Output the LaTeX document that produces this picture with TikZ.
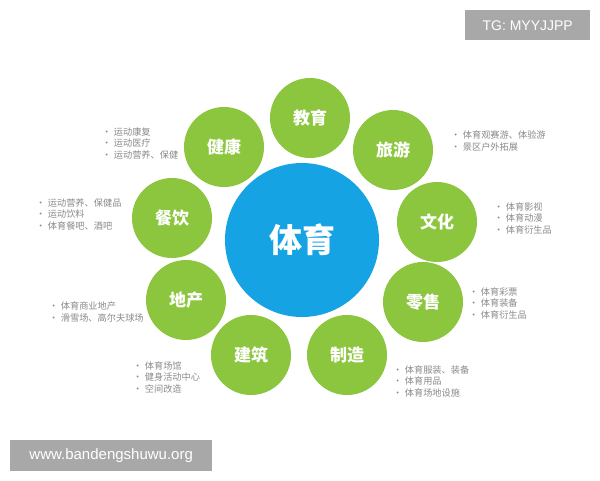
\documentclass[tikz,border=0pt]{standalone}
\usepackage{fontspec}
\setmainfont{Liberation Sans}
\newfontfamily\cjk{Noto Sans CJK SC}
\definecolor{grn}{HTML}{8CC63F}
\definecolor{blu}{HTML}{16A3E3}
\definecolor{txtgray}{HTML}{8A8A8A}
\definecolor{wm}{HTML}{A8A8A8}
\tikzset{
  hub/.style={circle, fill=blu, minimum size=154pt, inner sep=0pt, text=white, font=\cjk\bfseries\fontsize{33}{35}\selectfont},
  sat/.style={circle, fill=grn, minimum size=80pt, inner sep=0pt, text=white, font=\cjk\bfseries\fontsize{17}{19}\selectfont},
  lst/.style={anchor=west, align=left, inner sep=0pt, text=txtgray, font=\cjk\fontsize{9.2}{11.5}\selectfont},
  wmbox/.style={fill=wm, text=white, inner sep=0pt, anchor=north west}
}
\newcommand{\bul}{•\hspace{2.5pt}}
\begin{document}
\begin{tikzpicture}[x=1pt,y=-1pt]
\useasboundingbox (0,0) rectangle (600,480);
\fill[white] (0,0) rectangle (600,480);
\node[hub] (hub) at (302,240) {体育};
\node[sat] (jy) at (310,118) {教育};
\node[sat] (ly) at (393,150) {旅游};
\node[sat] (wh) at (437,222) {文化};
\node[sat] (ls) at (423,302) {零售};
\node[sat] (zz) at (347,355) {制造};
\node[sat] (jz) at (251,355) {建筑};
\node[sat] (dc) at (186,300) {地产};
\node[sat] (cy) at (172,218) {餐饮};
\node[sat] (jk) at (224,147) {健康};
\node[lst] (ljk) at (102,143) {\bul 运动康复\\\bul 运动医疗\\\bul 运动营养、保健};
\node[lst] (lcy) at (36,214) {\bul 运动营养、保健品\\\bul 运动饮料\\\bul 体育餐吧、酒吧};
\node[lst] (lly) at (451,141) {\bul 体育观赛游、体验游\\\bul 景区户外拓展};
\node[lst] (lwh) at (494,218) {\bul 体育影视\\\bul 体育动漫\\\bul 体育衍生品};
\node[lst] (lls) at (469,303) {\bul 体育彩票\\\bul 体育装备\\\bul 体育衍生品};
\node[lst] (ldc) at (49,312) {\bul 体育商业地产\\\bul 滑雪场、高尔夫球场};
\node[lst] (ljz) at (133,377) {\bul 体育场馆\\\bul 健身活动中心\\\bul 空间改造};
\node[lst] (lzz) at (393,381) {\bul 体育服装、装备\\\bul 体育用品\\\bul 体育场地设施};
\node[wmbox, minimum width=125pt, minimum height=30pt, font=\fontsize{14}{16}\selectfont] (tg) at (465,10) {TG: MYYJJPP};
\node[wmbox, minimum width=202pt, minimum height=31pt, font=\fontsize{15}{17}\selectfont] (www) at (10,440) {www.bandengshuwu.org};
\end{tikzpicture}
\end{document}
